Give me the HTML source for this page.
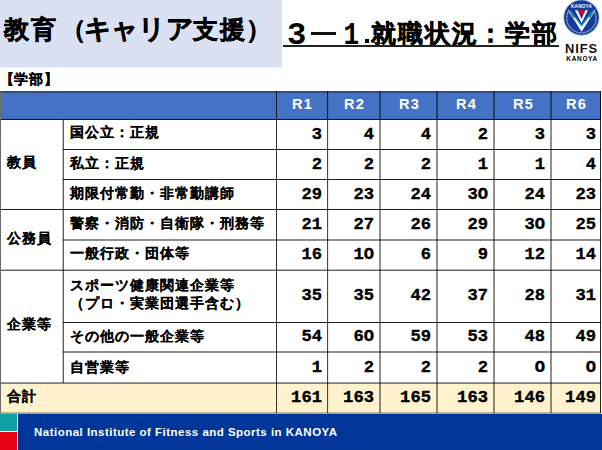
<!DOCTYPE html>
<html lang="ja">
<head>
<meta charset="utf-8">
<style>
*{margin:0;padding:0;box-sizing:border-box;}
html,body{width:602px;height:450px;overflow:hidden;background:#fff;}
body{position:relative;font-family:"Liberation Sans",sans-serif;color:#000;font-weight:bold;}
.a{position:absolute;white-space:nowrap;}
.ln{position:absolute;}
.t15{position:absolute;white-space:nowrap;font-size:14px;letter-spacing:1px;line-height:17px;-webkit-text-stroke:0.1px #000;}
.ttl{position:absolute;white-space:nowrap;font-size:24.5px;letter-spacing:1.65px;line-height:30px;-webkit-text-stroke:0.5px #000;}
.num{position:absolute;width:60px;height:12px;text-align:right;font-family:"Liberation Mono",monospace;font-size:15.6px;line-height:12px;transform:scaleX(1.1);transform-origin:100% 50%;-webkit-text-stroke:0.35px #000;}
.hd{position:absolute;width:52px;font-size:14.6px;letter-spacing:1.2px;text-indent:1.2px;line-height:18px;color:#fff;text-align:center;top:95px;}
</style>
</head>
<body>
<!-- title box -->
<div class="a" style="left:0;top:0;width:282px;height:67px;background:#D9E1F2;"></div><div class="a" style="left:0;top:67px;width:282px;height:1px;background:#ecf0f8;"></div>
<div class="ttl" style="left:4px;top:14px;">教育<span style="position:relative;left:3.5px">（</span><span style="font-size:27px;letter-spacing:-0.75px;">キャリア</span>支援）</div>

<!-- right title -->
<div class="a" style="left:287px;top:20px;font-family:'Liberation Mono',monospace;font-size:31px;line-height:32px;transform:scaleX(1.04);transform-origin:0 0;">3</div>
<div class="a" style="left:311px;top:32px;width:24.5px;height:2.6px;background:#111;"></div>
<div class="a" style="left:341.5px;top:20px;font-family:'Liberation Mono',monospace;font-size:31px;line-height:32px;transform:scaleX(0.84);transform-origin:9.5px 0;">1</div>
<div class="a" style="left:365.3px;top:38.8px;width:3.8px;height:4px;background:#000;"></div>
<div class="ttl" style="left:371px;top:19px;letter-spacing:1.85px;">就職状況：学部</div>
<div class="a" style="left:283px;top:45px;width:276px;height:1.5px;background:#222;"></div>

<!-- logo -->
<svg class="a" style="left:560px;top:0;" width="42" height="64" viewBox="560 0 42 64">
  <circle cx="581.4" cy="17.6" r="17.7" fill="#163a9c" stroke="#9fd0e4" stroke-width="0.8"/>
  <path d="M568.2,12 A14.6,14.6 0 1 0 594.6,12" fill="none" stroke="#e4ecf8" stroke-width="1.3" stroke-dasharray="0.9 0.5" opacity="0.72"/>
  <text x="581.5" y="7.9" font-family="Liberation Sans" font-weight="bold" font-size="4.6" fill="#fff" text-anchor="middle" letter-spacing="0.25">KANOYA</text>
  <polygon points="574.9,10.3 577.6,10.3 581.6,19 585.3,10.3 587.9,10.3 581.6,22.9" fill="#fff"/>
  <polygon points="572.5,17.2 575.1,17.2 581.6,25.6 588.1,17.2 590.8,17.2 581.6,31.7" fill="#fff"/>
  <polyline points="568,9.7 572.6,17.3" fill="none" stroke="#fff" stroke-width="0.8"/>
  <polyline points="595.2,9.7 590.7,17.3" fill="none" stroke="#fff" stroke-width="0.8"/>
  <polyline points="569.7,10.3 581.6,25.6 593.4,10.3" fill="none" stroke="#17a2a2" stroke-width="1.3"/>
  <circle cx="581.6" cy="12" r="2.7" fill="#e8001a"/>
  <text x="581.6" y="52.8" font-family="Liberation Sans" font-weight="bold" font-size="12.9" fill="#111" text-anchor="middle" letter-spacing="0.9">NIFS</text>
  <text x="582.1" y="60.9" font-family="Liberation Sans" font-weight="bold" font-size="6.4" fill="#000" text-anchor="middle" letter-spacing="0.75">KANOYA</text>
</svg>

<div class="a" style="left:0;top:71px;font-size:14px;line-height:17px;-webkit-text-stroke:0.2px #000;">
<span class="a" style="left:0px">【</span><span class="a" style="left:14px;letter-spacing:1px">学部</span><span class="a" style="left:44px">】</span></div>

<!-- table backgrounds -->
<div class="a" style="left:0;top:92px;width:601px;height:27px;background:#4472C4;"></div>
<div class="a" style="left:0;top:383px;width:601px;height:30px;background:#FFF2CC;"></div>

<!-- lines -->
<div class="ln" style="left:0px;top:91px;width:601px;height:1px;background:rgba(0,0,0,0.700)"></div><div class="ln" style="left:0px;top:92px;width:601px;height:1px;background:rgba(0,0,0,0.300)"></div>
<div class="ln" style="left:0px;top:118px;width:601px;height:1px;background:rgba(0,0,0,0.047)"></div><div class="ln" style="left:0px;top:119px;width:601px;height:1px;background:rgba(0,0,0,0.903)"></div>
<div class="ln" style="left:63px;top:149px;width:538px;height:1px;background:rgba(0,0,0,0.880)"></div>
<div class="ln" style="left:63px;top:179px;width:538px;height:1px;background:rgba(0,0,0,0.880)"></div>
<div class="ln" style="left:63px;top:239px;width:538px;height:1px;background:rgba(0,0,0,0.440)"></div><div class="ln" style="left:63px;top:240px;width:538px;height:1px;background:rgba(0,0,0,0.440)"></div>
<div class="ln" style="left:63px;top:322px;width:538px;height:1px;background:rgba(0,0,0,0.880)"></div>
<div class="ln" style="left:63px;top:351px;width:538px;height:1px;background:rgba(0,0,0,0.440)"></div><div class="ln" style="left:63px;top:352px;width:538px;height:1px;background:rgba(0,0,0,0.440)"></div>
<div class="ln" style="left:0px;top:209px;width:601px;height:1px;background:rgba(0,0,0,0.880)"></div>
<div class="ln" style="left:0px;top:269px;width:601px;height:1px;background:rgba(0,0,0,0.264)"></div><div class="ln" style="left:0px;top:270px;width:601px;height:1px;background:rgba(0,0,0,0.616)"></div>
<div class="ln" style="left:0px;top:382px;width:601px;height:1px;background:rgba(0,0,0,0.396)"></div><div class="ln" style="left:0px;top:383px;width:601px;height:1px;background:rgba(0,0,0,0.484)"></div>
<div class="ln" style="left:0px;top:412px;width:601px;height:1px;background:rgba(0,0,0,0.240)"></div><div class="ln" style="left:0px;top:413px;width:601px;height:1px;background:rgba(0,0,0,0.360)"></div>
<div class="ln" style="left:0;top:91px;width:1px;height:322px;background:#6b6b6b"></div><div class="ln" style="left:62px;top:119px;width:1px;height:264px;background:rgba(0,0,0,0.264)"></div><div class="ln" style="left:63px;top:119px;width:1px;height:264px;background:rgba(0,0,0,0.616)"></div>
<div class="ln" style="left:276px;top:91px;width:1px;height:322px;background:rgba(0,0,0,0.800)"></div>
<div class="ln" style="left:327px;top:91px;width:1px;height:322px;background:rgba(0,0,0,0.720)"></div><div class="ln" style="left:328px;top:91px;width:1px;height:322px;background:rgba(0,0,0,0.080)"></div>
<div class="ln" style="left:379px;top:91px;width:1px;height:322px;background:rgba(0,0,0,0.440)"></div><div class="ln" style="left:380px;top:91px;width:1px;height:322px;background:rgba(0,0,0,0.440)"></div>
<div class="ln" style="left:436px;top:91px;width:1px;height:322px;background:rgba(0,0,0,0.440)"></div><div class="ln" style="left:437px;top:91px;width:1px;height:322px;background:rgba(0,0,0,0.440)"></div>
<div class="ln" style="left:493px;top:91px;width:1px;height:322px;background:rgba(0,0,0,0.440)"></div><div class="ln" style="left:494px;top:91px;width:1px;height:322px;background:rgba(0,0,0,0.440)"></div>
<div class="ln" style="left:550px;top:91px;width:1px;height:322px;background:rgba(0,0,0,0.440)"></div><div class="ln" style="left:551px;top:91px;width:1px;height:322px;background:rgba(0,0,0,0.440)"></div>
<div class="ln" style="left:600px;top:91px;width:1px;height:322px;background:rgba(0,0,0,0.850)"></div>

<!-- header labels -->
<div class="hd" style="left:276px;">R1</div>
<div class="hd" style="left:328px;">R2</div>
<div class="hd" style="left:381px;width:56px;">R3</div>
<div class="hd" style="left:438px;width:56px;">R4</div>
<div class="hd" style="left:495px;width:56px;">R5</div>
<div class="hd" style="left:551px;width:50px;">R6</div>

<!-- group labels -->
<div class="t15" style="left:7px;top:154px;">教員</div>
<div class="t15" style="left:7px;top:230px;">公務員</div>
<div class="t15" style="left:7px;top:316px;">企業等</div>
<div class="t15" style="left:7px;top:388px;">合計</div>

<!-- sub labels -->
<div class="t15" style="left:70px;top:124px;">国公立：正規</div>
<div class="t15" style="left:70px;top:155px;">私立：正規</div>
<div class="t15" style="left:70px;top:185px;">期限付常勤・非常勤講師</div>
<div class="t15" style="left:70px;top:215px;">警察・消防・自衛隊・刑務等</div>
<div class="t15" style="left:70px;top:245px;">一般行政・団体等</div>
<div class="t15" style="left:70px;top:276px;line-height:18px;">スポーツ健康関連企業等<br>（プロ・実業団選手含む）</div>
<div class="t15" style="left:70px;top:328px;">その他の一般企業等</div>
<div class="t15" style="left:70px;top:359px;">自営業等</div>

<!-- numbers -->
<div class="num" style="left:262.0px;top:128.5px">3</div><div class="num" style="left:314.3px;top:128.5px">4</div><div class="num" style="left:371.3px;top:128.5px">4</div><div class="num" style="left:428.3px;top:128.5px">2</div><div class="num" style="left:485.3px;top:128.5px">3</div><div class="num" style="left:535.5px;top:128.5px">3</div>
<div class="num" style="left:262.0px;top:158.5px">2</div><div class="num" style="left:314.3px;top:158.5px">2</div><div class="num" style="left:371.3px;top:158.5px">2</div><div class="num" style="left:428.3px;top:158.5px">1</div><div class="num" style="left:485.3px;top:158.5px">1</div><div class="num" style="left:535.5px;top:158.5px">4</div>
<div class="num" style="left:262.0px;top:188.8px">29</div><div class="num" style="left:314.3px;top:188.8px">23</div><div class="num" style="left:371.3px;top:188.8px">24</div><div class="num" style="left:428.3px;top:188.8px">3O</div><div class="num" style="left:485.3px;top:188.8px">24</div><div class="num" style="left:535.5px;top:188.8px">23</div>
<div class="num" style="left:262.0px;top:219.0px">21</div><div class="num" style="left:314.3px;top:219.0px">27</div><div class="num" style="left:371.3px;top:219.0px">26</div><div class="num" style="left:428.3px;top:219.0px">29</div><div class="num" style="left:485.3px;top:219.0px">3O</div><div class="num" style="left:535.5px;top:219.0px">25</div>
<div class="num" style="left:262.0px;top:249.0px">16</div><div class="num" style="left:314.3px;top:249.0px">1O</div><div class="num" style="left:371.3px;top:249.0px">6</div><div class="num" style="left:428.3px;top:249.0px">9</div><div class="num" style="left:485.3px;top:249.0px">12</div><div class="num" style="left:535.5px;top:249.0px">14</div>
<div class="num" style="left:262.0px;top:290.2px">35</div><div class="num" style="left:314.3px;top:290.2px">35</div><div class="num" style="left:371.3px;top:290.2px">42</div><div class="num" style="left:428.3px;top:290.2px">37</div><div class="num" style="left:485.3px;top:290.2px">28</div><div class="num" style="left:535.5px;top:290.2px">31</div>
<div class="num" style="left:262.0px;top:331.0px">54</div><div class="num" style="left:314.3px;top:331.0px">6O</div><div class="num" style="left:371.3px;top:331.0px">59</div><div class="num" style="left:428.3px;top:331.0px">53</div><div class="num" style="left:485.3px;top:331.0px">48</div><div class="num" style="left:535.5px;top:331.0px">49</div>
<div class="num" style="left:262.0px;top:361.5px">1</div><div class="num" style="left:314.3px;top:361.5px">2</div><div class="num" style="left:371.3px;top:361.5px">2</div><div class="num" style="left:428.3px;top:361.5px">2</div><div class="num" style="left:485.3px;top:361.5px">O</div><div class="num" style="left:535.5px;top:361.5px">O</div>
<div class="num" style="left:262.0px;top:392.2px">161</div><div class="num" style="left:314.3px;top:392.2px">163</div><div class="num" style="left:371.3px;top:392.2px">165</div><div class="num" style="left:428.3px;top:392.2px">163</div><div class="num" style="left:485.3px;top:392.2px">146</div><div class="num" style="left:535.5px;top:392.2px">149</div>

<!-- footer -->
<div class="a" style="left:0;top:414px;width:602px;height:36px;background:#fff;"></div>
<div class="a" style="left:0;top:414px;width:17px;height:17px;background:#0FA0A6;"></div>
<div class="a" style="left:0;top:432px;width:17px;height:18px;background:#E60012;"></div>
<div class="a" style="left:18px;top:414px;width:584px;height:36px;background:#00369A;"></div>
<div class="a" style="left:34px;top:425px;font-size:11.5px;line-height:14px;color:#fff;letter-spacing:0.48px;">National Institute of Fitness and Sports in KANOYA</div>
</body>
</html>
